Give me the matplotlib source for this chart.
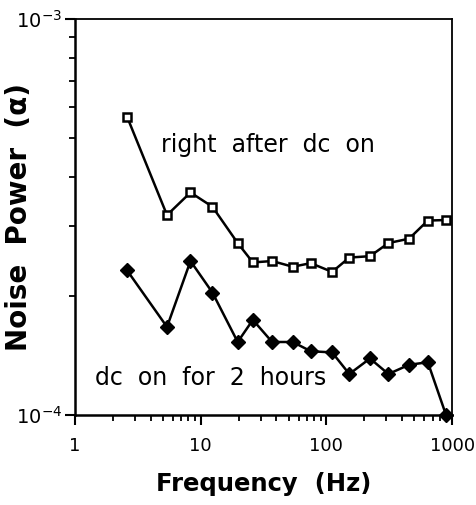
import matplotlib
matplotlib.use("Agg")
import matplotlib.pyplot as plt
from matplotlib.ticker import LogLocator, NullFormatter

plt.rcParams["font.family"] = ["DejaVu Sans"]

# frequencies (Hz)
freq = [2.6, 5.4, 8.3, 12.4, 19.7, 26, 37, 54, 75, 111, 152, 222, 311, 454, 640, 894]

# noise power right after dc on (open squares)
power_after = [5.67e-4, 3.20e-4, 3.65e-4, 3.36e-4, 2.72e-4, 2.43e-4, 2.45e-4, 2.37e-4,
               2.42e-4, 2.30e-4, 2.50e-4, 2.52e-4, 2.72e-4, 2.79e-4, 3.10e-4, 3.11e-4]

# noise power with dc on for 2 hours (filled diamonds)
power_2h = [2.32e-4, 1.67e-4, 2.45e-4, 2.04e-4, 1.53e-4, 1.74e-4, 1.53e-4, 1.53e-4,
            1.45e-4, 1.44e-4, 1.27e-4, 1.39e-4, 1.27e-4, 1.34e-4, 1.36e-4, 1.0e-4]

x_ticks = [1, 10, 100, 1000]
x_labels = ["1", "10", "100", "1000"]
y_ticks = [1e-4, 1e-3]
y_labels = [r"$\mathregular{10^{-4}}$", r"$\mathregular{10^{-3}}$"]

fig = plt.figure(figsize=(4.77, 5.05), dpi=100)
ax = fig.add_axes([0.157, 0.178, 0.791, 0.784])

ax.plot(freq, power_after, color="black", linewidth=1.8,
        marker="s", markersize=6, markerfacecolor="white",
        markeredgecolor="black", markeredgewidth=1.8, clip_on=False, zorder=3)
ax.plot(freq, power_2h, color="black", linewidth=1.8,
        marker="D", markersize=7, markerfacecolor="black",
        markeredgecolor="black", clip_on=False, zorder=3)

ax.set_xscale("log")
ax.set_yscale("log")
ax.set_xlim(1, 1000)
ax.set_ylim(1e-4, 1e-3)

ax.set_xticks(x_ticks)
ax.set_xticklabels(x_labels, fontsize=13)
ax.set_yticks(y_ticks)
ax.set_yticklabels(y_labels, fontsize=14)
ax.xaxis.set_minor_locator(LogLocator(base=10, subs=range(2, 10)))
ax.yaxis.set_minor_locator(LogLocator(base=10, subs=range(2, 10)))
ax.xaxis.set_minor_formatter(NullFormatter())
ax.yaxis.set_minor_formatter(NullFormatter())

ax.tick_params(which="major", direction="out", length=7, width=1.5)
ax.tick_params(which="minor", direction="out", length=4, width=1.3)
ax.tick_params(axis="x", which="major", pad=9)
ax.tick_params(axis="y", which="major", pad=2)

for side in ["left", "bottom"]:
    ax.spines[side].set_linewidth(1.8)
for side in ["top", "right"]:
    ax.spines[side].set_linewidth(1.3)

ax.text(4.8, 4.8e-4, "right  after  dc  on", fontsize=17, va="center", ha="left")
ax.text(1.44, 1.24e-4, "dc  on  for  2  hours", fontsize=17, va="center", ha="left")

ax.set_xlabel("Frequency  (Hz)", fontsize=17.5, fontweight="bold", labelpad=12)
ax.set_ylabel("Noise  Power  (\u03b1)", fontsize=20, fontweight="bold")
ax.yaxis.set_label_coords(-0.112, 0.5)

fig.savefig("out.png", dpi=100)
